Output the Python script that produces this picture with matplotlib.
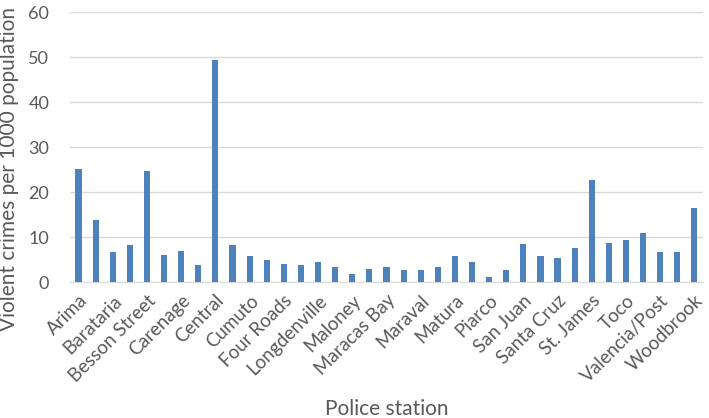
import matplotlib.pyplot as plt
import numpy as np

# stations shown on the axis (Excel only labels every second bar)
shown_labels = ['Arima', 'Barataria', 'Besson Street', 'Carenage', 'Central', 'Cumuto',
                'Four Roads', 'Longdenville', 'Maloney', 'Maracas Bay', 'Maraval', 'Matura',
                'Piarco', 'San Juan', 'Santa Cruz', 'St. James', 'Toco', 'Valencia/Post',
                'Woodbrook']

# violent crimes per 1000 population, one value per station (37 stations)
rates = [25.2, 13.8, 6.6, 8.2, 24.6, 6.1, 7.0, 3.9, 49.3, 8.2,
         5.8, 5.0, 4.1, 3.9, 4.4, 3.3, 1.8, 2.9, 3.3, 2.7,
         2.7, 3.3, 5.8, 4.4, 1.1, 2.6, 8.5, 5.7, 5.3, 7.6,
         22.7, 8.8, 9.3, 10.9, 6.8, 6.6, 16.5]

plt.rcParams['font.family'] = ['Lato', 'DejaVu Sans']
txt = '#595959'

fig = plt.figure(figsize=(7.09, 4.18), dpi=100)
ax = fig.add_axes([0.0987, 0.325, 0.8928, 0.646])

x = np.arange(len(rates))
ax.bar(x, rates, width=0.36, color='#4F81BD', zorder=3)

ax.set_xlim(-0.5, len(rates) - 0.5)
ax.set_ylim(0, 60)
ax.set_yticks(range(0, 61, 10))
ax.yaxis.grid(True, color='#D9D9D9', linewidth=1, zorder=0)
for s in ['top', 'right', 'left']:
    ax.spines[s].set_visible(False)
ax.spines['bottom'].set_color('#D9D9D9')

ax.set_xticks(x[::2])
ax.set_xticklabels(shown_labels, rotation=45, ha='right', rotation_mode='anchor',
                   fontsize=13.5, color=txt)
ax.tick_params(axis='both', length=0, pad=7)
ax.tick_params(axis='y', labelsize=13, labelcolor=txt, pad=15)

ax.set_ylabel('Violent crimes per 1000 population', fontsize=15, color=txt)
ax.yaxis.set_label_coords(-0.08, 0.42)
ax.set_xlabel('Police station', fontsize=15, color=txt, labelpad=10)

fig.savefig('out.png', dpi=100)
